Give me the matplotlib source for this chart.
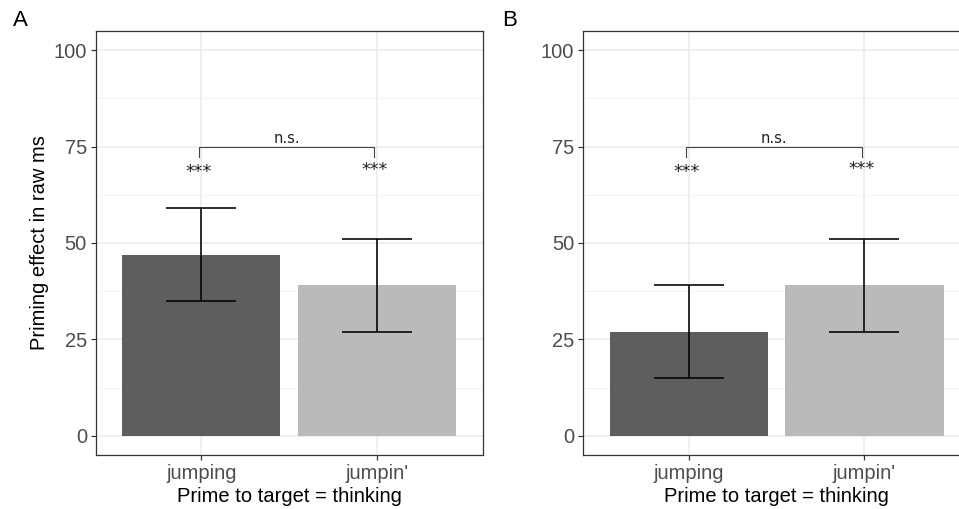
import numpy as np
import matplotlib
matplotlib.use('Agg')
import matplotlib.pyplot as plt

# data
categories = ["jumping", "jumpin'"]
panel_labels = ["A", "B"]
means = {"A": [47, 39], "B": [27, 39]}
err_low = {"A": [35, 27], "B": [15, 27]}
err_high = {"A": [59, 51], "B": [39, 51]}
star_labels = ["***", "***"]
star_y = {"A": [68.5, 68.9], "B": [68.4, 69.3]}
bracket_label = "n.s."
bracket_y = 75
bracket_drop = 72.3

bar_colors = ["#5e5e5e", "#bababa"]
y_ticks = [0, 25, 50, 75, 100]

plt.rcParams['font.family'] = ['Liberation Sans', 'DejaVu Sans']

fig = plt.figure(figsize=(9.59, 5.09), dpi=100)

ax_w = 386.5 / 959
ax_h = (455 - 31) / 509
ax_bottom = 1 - 455 / 509
lefts = [96 / 959, 583.4 / 959]

for panel, left in zip(panel_labels, lefts):
    ax = fig.add_axes([left, ax_bottom, ax_w, ax_h])
    x = np.arange(1, len(categories) + 1)

    # grid like theme_bw
    ax.set_axisbelow(True)
    ax.set_yticks(y_ticks)
    ax.set_yticks([12.5, 37.5, 62.5, 87.5], minor=True)
    ax.grid(True, which='major', color='#ebebeb', linewidth=1.1)
    ax.grid(True, which='minor', axis='y', color='#f2f2f2', linewidth=0.6)

    ax.bar(x, means[panel], width=0.9, color=bar_colors, zorder=2)

    lo = np.array(means[panel]) - np.array(err_low[panel])
    hi = np.array(err_high[panel]) - np.array(means[panel])
    ax.errorbar(x, means[panel], yerr=[lo, hi], fmt='none', ecolor='black',
                elinewidth=1.15, capsize=25.3, capthick=1.15, zorder=3)

    # stars above each bar
    for xi, lab, yy in zip(x, star_labels, star_y[panel]):
        ax.text(xi - 0.015, yy, lab, ha='center', va='center', fontsize=12.5,
                family='DejaVu Sans', color='#222222', zorder=4)

    # significance bracket
    bx0, bx1 = x[0] - 0.015, x[1] - 0.015
    ax.plot([bx0, bx0, bx1, bx1], [bracket_drop, bracket_y, bracket_y, bracket_drop],
            color='#444444', linewidth=0.8, zorder=4)
    ax.text((bx0 + bx1) / 2, bracket_y + 2.0, bracket_label, ha='center', va='center',
            fontsize=10.5, family='DejaVu Sans', color='#222222')

    ax.set_xlim(0.4, 2.6)
    ax.set_ylim(-5, 105)
    ax.set_xticks(x)
    ax.set_xticklabels(categories)
    ax.tick_params(axis='both', which='major', length=3.5, width=0.9, color='#333333',
                   labelsize=14.5, labelcolor='#4d4d4d', pad=3)
    ax.tick_params(axis='both', which='minor', length=0)
    for sp in ax.spines.values():
        sp.set_color('#333333')
        sp.set_linewidth(0.9)
    if panel == "B":
        # the reference is cropped before panel B's right border
        ax.spines['right'].set_visible(False)

    ax.set_xlabel("Prime to target = thinking", fontsize=14.5, labelpad=3)
    if panel == "A":
        ax.set_ylabel("Priming effect in raw ms", fontsize=14.5, labelpad=3)

fig.text(13 / 959, 1 - 21 / 509, "A", fontsize=16, va='center', ha='left')
fig.text(502 / 959, 1 - 21 / 509, "B", fontsize=16, va='center', ha='left')

fig.savefig('out.png', dpi=100)
